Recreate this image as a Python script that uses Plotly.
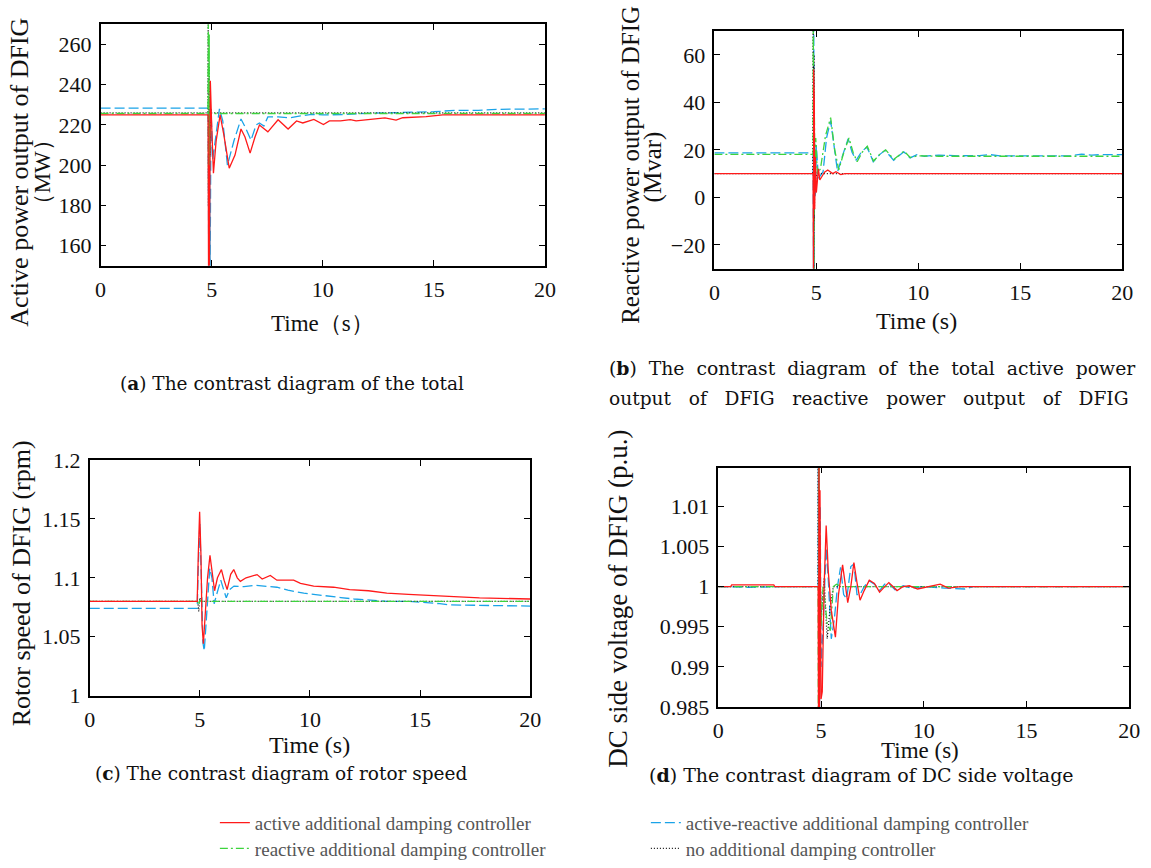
import plotly.graph_objects as go

# (time s, value) pairs
# (a) active power of DFIG, MW
a_red = [(0, 225), (4.84, 225), (4.86, 145), (4.88, 200), (4.9, 150), (4.94, 242), (5.0, 220),
         (5.08, 196), (5.2, 212), (5.38, 225), (5.55, 215), (5.79, 198.5), (6.05, 205), (6.32, 218),
         (6.5, 214), (6.73, 206), (6.95, 214), (7.15, 220), (7.53, 216.6), (7.99, 222.6), (8.44, 218),
         (8.82, 222), (9.1, 221), (9.6, 222.8), (10.03, 220.2), (10.3, 222), (10.8, 222), (11.24, 222.7),
         (11.5, 222), (11.9, 222.5), (12.8, 223.5), (13.3, 222.4), (13.6, 223.6), (14.65, 224.2),
         (15.4, 225), (17.0, 225), (20, 225)]
a_blue = [(0, 228.4), (4.84, 228.4), (4.87, 145), (4.9, 228), (4.93, 145), (4.97, 228), (5.05, 203),
          (5.15, 212), (5.35, 228), (5.5, 222), (5.71, 200), (6.0, 212), (6.32, 223), (6.55, 218),
          (6.77, 212.4), (7.0, 220), (7.15, 221), (7.35, 219.5), (7.53, 224), (8.0, 224), (8.5, 223.5),
          (9.0, 224.5), (9.5, 225.3), (10, 225), (11, 225.2), (12, 225.8), (13, 226), (14, 226.4),
          (15, 226.6), (16, 227.3), (17, 227.3), (18, 227.8), (20, 228)]
a_green = [(0, 225.7), (4.83, 225.7), (4.85, 275), (4.86, 190), (4.87, 270), (4.88, 195), (4.89, 265),
           (4.9, 200), (4.91, 250), (4.93, 215), (4.96, 226), (5.05, 225.7), (20, 225.7)]
a_black = [(0, 226), (4.83, 226), (4.845, 275), (4.855, 180), (4.865, 272), (4.875, 185), (4.89, 250),
           (4.92, 205), (4.95, 228), (5.0, 226), (20, 226)]

# (b) reactive power of DFIG, Mvar
b_red = [(0, 10), (4.84, 10), (4.86, -35), (4.87, 54), (4.88, -35), (4.9, 40), (4.92, -5), (4.95, 17),
         (5.0, 2), (5.1, 12), (5.17, 7.3), (5.4, 10.6), (5.56, 11.5), (5.8, 10), (5.96, 10.8), (6.2, 9.6),
         (6.4, 10), (20, 10)]
b_blue = [(0, 18.7), (4.84, 18.7), (4.86, -35), (4.875, 75), (4.89, -35), (4.91, 25), (4.95, 0),
          (5.0, 22), (5.1, 8), (5.33, 10.8), (5.5, 25), (5.7, 32.3), (5.85, 22), (6.04, 10.8), (6.3, 18),
          (6.56, 24.7), (6.75, 19), (6.95, 15.6), (7.2, 19), (7.47, 21.2), (7.65, 18), (7.79, 15),
          (8.1, 18), (8.37, 19.8), (8.6, 17.5), (8.79, 15.6), (9.05, 17.5), (9.29, 19.2), (9.6, 16.6),
          (9.93, 18), (10.3, 17.3), (11, 17.8), (12, 17.5), (13, 17.6), (13.5, 18), (14, 17.5),
          (17.5, 17.5), (18, 18.2), (18.5, 17.8), (19, 18), (20, 18)]
b_green = [(0, 18.1), (4.84, 18.1), (4.85, 75), (4.86, -35), (4.87, 75), (4.88, -35), (4.9, 40),
           (4.93, 5), (4.97, 25), (5.05, 10), (5.2, 12), (5.45, 26), (5.7, 33.6), (5.9, 20), (6.1, 11.6),
           (6.35, 19), (6.6, 25), (6.8, 19), (7.0, 15), (7.25, 19), (7.5, 21.5), (7.8, 15.3), (8.1, 18),
           (8.4, 20), (8.8, 16), (9.3, 19.5), (9.6, 16.8), (10, 17.5), (11, 17.3), (12.5, 17.3),
           (13, 17.0), (13.5, 17.3), (20, 17.3)]
b_black = [(0, 10), (4.83, 10), (4.845, 75), (4.855, -35), (4.865, 75), (4.875, -35), (4.885, 60),
           (4.9, -10), (4.93, 20), (4.97, 8), (5.05, 10), (20, 10)]

# (c) rotor speed of DFIG, rpm
c_red = [(0, 1.08), (4.88, 1.08), (4.93, 1.12), (4.99, 1.156), (5.05, 1.12), (5.1, 1.06), (5.16, 1.044),
         (5.25, 1.07), (5.35, 1.1), (5.46, 1.119), (5.55, 1.105), (5.67, 1.089), (5.8, 1.1), (5.98, 1.107),
         (6.1, 1.098), (6.24, 1.09), (6.4, 1.103), (6.54, 1.107), (6.7, 1.1), (6.84, 1.097), (7.1, 1.1),
         (7.3, 1.101), (7.6, 1.1027), (7.83, 1.099), (8.2, 1.102), (8.5, 1.098), (9.26, 1.098),
         (9.57, 1.0953), (10.17, 1.093), (11.07, 1.092), (11.8, 1.09), (12.66, 1.089), (13.49, 1.087),
         (14.47, 1.086), (15.6, 1.085), (17.1, 1.084), (17.7, 1.083), (20, 1.082)]
c_blue = [(0, 1.074), (4.88, 1.074), (4.93, 1.11), (5.0, 1.146), (5.08, 1.09), (5.14, 1.045), (5.2, 1.038),
          (5.3, 1.07), (5.45, 1.108), (5.55, 1.1), (5.65, 1.078), (5.75, 1.085), (5.95, 1.098), (6.08, 1.09),
          (6.2, 1.083), (6.35, 1.09), (6.55, 1.093), (7.0, 1.0925), (7.5, 1.0937), (8.5, 1.092),
          (9.0, 1.0895), (9.72, 1.087), (10.5, 1.085), (11.4, 1.0832), (12.0, 1.082), (12.9, 1.0808),
          (13.5, 1.08), (14.5, 1.08), (15.3, 1.079), (15.9, 1.078), (16.3, 1.077), (20, 1.076)]
c_green = [(0, 1.08), (4.88, 1.08), (4.95, 1.077), (5.0, 1.081), (5.1, 1.08), (20, 1.08)]
c_black = [(0, 1.08), (4.9, 1.08), (4.95, 1.0715), (5.0, 1.083), (5.05, 1.08), (20, 1.08)]

# (d) DC side voltage of DFIG, p.u.
d_red = [(0, 1.0), (0.6, 1.0), (0.65, 1.0002), (2.7, 1.0002), (2.75, 1.0), (4.86, 1.0), (4.88, 0.98),
         (4.9, 1.02), (4.92, 0.98), (4.95, 1.012), (5.0, 0.986), (5.06, 0.9869), (5.15, 1.0), (5.25, 1.0076),
         (5.35, 1.002), (5.5, 0.997), (5.7, 0.9937), (5.85, 0.999), (6.05, 1.0027), (6.2, 0.9995),
         (6.3, 0.998), (6.45, 1.0), (6.6, 1.003), (6.75, 1.0005), (6.9, 0.9983), (7.1, 0.9995),
         (7.35, 1.0008), (7.6, 1.0004), (7.85, 0.9993), (8.1, 1.0), (8.3, 1.0005), (8.5, 1.0),
         (8.7, 0.9995), (9.0, 1.0), (9.3, 1.0001), (9.7, 0.9997), (10.2, 1.0), (10.8, 1.0003),
         (11.2, 0.9998), (11.8, 1.0), (20, 1.0)]
d_blue = [(0, 1.0), (1.5, 0.9999), (3, 1.0), (4.86, 1.0), (4.875, 1.02), (4.89, 0.98), (4.91, 1.02),
          (4.93, 0.985), (4.96, 1.01), (5.0, 0.99), (5.1, 0.995), (5.25, 1.0048), (5.35, 1.001),
          (5.5, 0.9935), (5.65, 0.996), (5.8, 1.0), (5.95, 1.0024), (6.1, 0.999), (6.25, 0.9985),
          (6.45, 1.0025), (6.6, 1.0028), (6.75, 0.999), (6.9, 0.999), (7.1, 1.0), (7.35, 1.0007),
          (7.6, 1.0003), (7.85, 0.9995), (8.1, 1.0003), (8.3, 1.0004), (8.6, 0.9996), (9.0, 1.0001),
          (9.4, 0.9998), (10, 1.0), (11, 0.9998), (12, 0.9997), (12.4, 1.0), (20, 1.0)]
d_green = [(0, 1.0), (4.86, 1.0), (4.87, 0.98), (4.88, 1.02), (4.89, 0.98), (4.9, 1.02), (4.92, 0.99),
           (4.95, 1.003), (5.0, 0.995), (5.1, 1.0), (5.3, 0.9955), (5.45, 0.9945), (5.6, 1.0),
           (5.75, 1.0003), (6.0, 1.0), (20, 1.0)]
d_black = [(0, 1.0), (4.85, 1.0), (4.86, 1.02), (4.87, 0.98), (4.885, 1.02), (4.9, 0.98), (4.93, 1.005),
           (5.0, 0.996), (5.15, 1.001), (5.3, 0.9935), (5.45, 0.9975), (5.6, 1.0), (20, 1.0)]

names = {'red': 'active additional damping controller',
         'blue': 'active-reactive additional damping controller',
         'green': 'reactive additional damping controller',
         'black': 'no additional damping controller'}
colors = {'red': '#ff1a1a', 'blue': '#1aa3e8', 'green': '#3dd43d', 'black': '#111111'}
dashes = {'red': 'solid', 'blue': '10px,4px', 'green': '8px,3px,2px,3px', 'black': '1px,2px'}
which_legend = {'red': 'legend', 'blue': 'legend', 'green': 'legend2', 'black': 'legend2'}
rank = {'red': 1, 'blue': 2, 'green': 1, 'black': 2}

# positions below are window pixels (page margin and scrollbars are removed in out.html)
W, H = 1151, 868
SERIF = 'Liberation Serif, Times New Roman, serif'


def px(x):
    return x / W


def py(y):
    return 1 - y / H


def xdom(x0, x1):
    return [px(x0), px(x1)]


def ydom(y0, y1):
    return [py(y1), py(y0)]


panels = [
    ('x', 'y', {'red': a_red, 'blue': a_blue, 'green': a_green, 'black': a_black}),
    ('x2', 'y2', {'red': b_red, 'blue': b_blue, 'green': b_green, 'black': b_black}),
    ('x3', 'y3', {'red': c_red, 'blue': c_blue, 'green': c_green, 'black': c_black}),
    ('x4', 'y4', {'red': d_red, 'blue': d_blue, 'green': d_green, 'black': d_black}),
]

fig = go.Figure()
for i, (xa, ya, series) in enumerate(panels):
    for key in ['blue', 'black', 'green', 'red']:
        pts = series[key]
        fig.add_trace(go.Scatter(
            x=[p[0] for p in pts], y=[p[1] for p in pts], mode='lines',
            xaxis=xa, yaxis=ya, name=names[key],
            line=dict(color=colors[key], width=1.3, dash=dashes[key]),
            showlegend=(i == 0), legend=which_legend[key], legendrank=rank[key]))


def axis(domain, anchor, **kw):
    return dict(domain=domain, anchor=anchor, showline=True, linecolor='black', linewidth=1.5,
                mirror='ticks', ticks='inside', ticklen=6, tickcolor='black', showgrid=False,
                zeroline=False, ticklabelstandoff=3,
                tickfont=dict(family=SERIF, size=22, color='#111'), **kw)


xt = dict(tickvals=[0, 5, 10, 15, 20], range=[0, 20])
fig.update_layout(
    xaxis=axis(xdom(96, 547), 'y', **xt),
    yaxis=axis(ydom(13, 265), 'x', range=[150, 270], tickvals=[160, 180, 200, 220, 240, 260]),
    xaxis2=axis(xdom(719, 1133), 'y2', **xt),
    yaxis2=axis(ydom(20, 268), 'x2', range=[-30, 70], tickvals=[-20, 0, 20, 40, 60]),
    xaxis3=axis(xdom(85, 532), 'y3', **xt),
    yaxis3=axis(ydom(468, 714), 'x3', range=[1.0, 1.2], tickvals=[1.0, 1.05, 1.1, 1.15, 1.2],
                ticktext=['1', '1.05', '1.1', '1.15', '1.2']),
    xaxis4=axis(xdom(723, 1140), 'y4', **xt),
    yaxis4=axis(ydom(476, 726), 'x4', range=[0.985, 1.0148],
                tickvals=[0.985, 0.99, 0.995, 1.0, 1.005, 1.01],
                ticktext=['0.985', '0.99', '0.995', '1', '1.005', '1.01']),
)


def note(text, x, y, size=21, angle=0, anchor='center', family=SERIF):
    fig.add_annotation(text=text, x=px(x), y=py(y), xref='paper', yref='paper',
                       showarrow=False, textangle=angle, xanchor=anchor, yanchor='middle',
                       font=dict(family=family, size=size, color='#111'))


# axis titles
note('Active power output of DFIG', 14, 167, size=26, angle=-90)
note('（MW）', 37, 167, size=23, angle=-90)
note('Reactive power output of DFIG', 634, 160, size=25, angle=-90)
note('(Mvar)', 657, 162, size=25, angle=-90)
note('Rotor speed of DFIG (rpm)', 16, 597, size=26, angle=-90)
note('DC side voltage of DFIG (p.u.)', 621, 613, size=27, angle=-90)
note('Time（s）', 321, 325, size=23)
note('Time (s)', 924, 323, size=24)
note('Time (s)', 308, 766, size=24)
note('Time (s)', 928, 771, size=23)

# sub-figure captions (the (b) caption is justified in the source, hence the wider spacing)
CAP = 'DejaVu Serif'
sp1 = ' \u00a0'
sp2 = ' \u00a0\u00a0'
note('(<b>a</b>) The contrast diagram of the total', 290, 388, size=18.5, family=CAP)
note(sp1.join('(<b>b</b>) The contrast diagram of the total active power'.split(' ')), 610, 372,
     size=18.8, anchor='left', family=CAP)
note(sp2.join('output of DFIG reactive power output of DFIG'.split(' ')), 610, 404,
     size=18.6, anchor='left', family=CAP)
note('(<b>c</b>) The contrast diagram of rotor speed', 280, 795, size=18.5, family=CAP)
note('(<b>d</b>) The contrast diagram of DC side voltage', 868, 797, size=19, family=CAP)

leg = dict(orientation='h', xanchor='left', yanchor='top', entrywidth=386, entrywidthmode='pixels',
           bgcolor='rgba(0,0,0,0)', font=dict(family=SERIF, size=19, color='#555'))
fig.update_layout(
    width=W, height=H, margin=dict(l=0, r=0, t=0, b=0),
    font=dict(family=SERIF, color='#111'),
    paper_bgcolor='white', plot_bgcolor='white',
    legend=dict(leg, x=px(212), y=py(827)),
    legend2=dict(leg, x=px(212), y=py(854)),
)

page_fix = ("document.documentElement.style.overflow = 'hidden';"
            "document.body.style.overflow = 'hidden';"
            "document.body.style.margin = '0';")
fig.write_html("out.html", config={'displayModeBar': False}, post_script=page_fix)
